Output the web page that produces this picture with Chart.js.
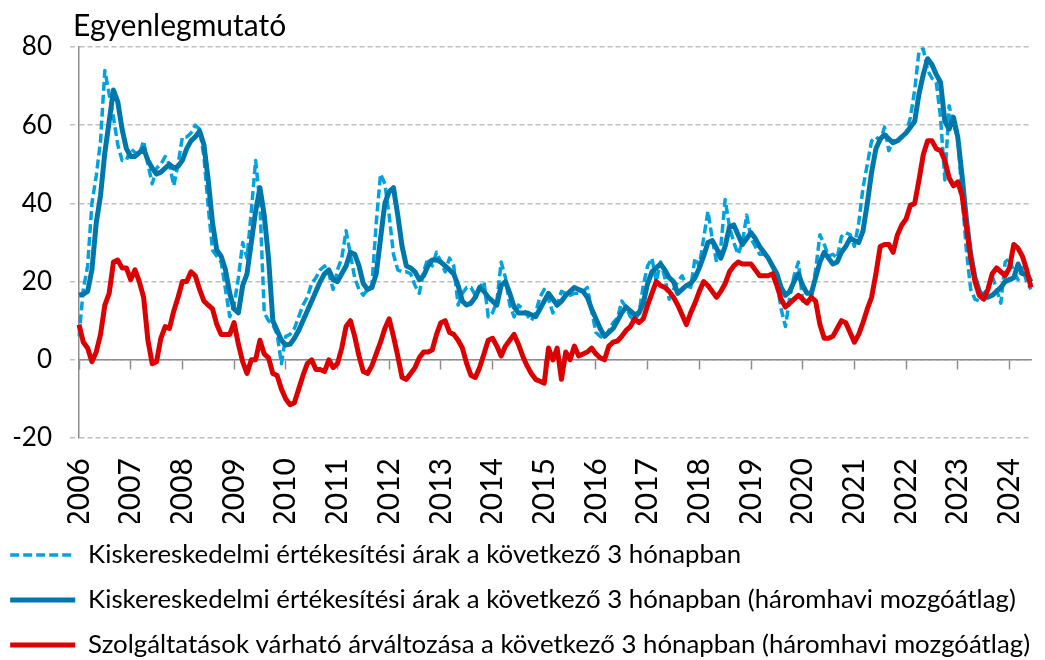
<!DOCTYPE html>
<html>
<head>
<meta charset="utf-8">
<script src="https://cdn.jsdelivr.net/npm/chart.js@4.4.0/dist/chart.umd.min.js"></script>
<style>
  body { margin: 0; background: #fff; }
</style>
</head>
<body>
<canvas id="chart" width="1045" height="660"></canvas>
<script>
// évek a vízszintes tengelyen
const yearTicks = [
  "2006", "2007", "2008", "2009", "2010", "2011", "2012", "2013", "2014",
  "2015", "2016", "2017", "2018", "2019", "2020", "2021", "2022", "2023", "2024",
];
const lastMonth = 6; // 2024 június az utolsó adat

// havi kategóriák: 2006-01 ... 2024-06
const labels = [];
yearTicks.forEach((y, k) => {
  const n = k === yearTicks.length - 1 ? lastMonth : 12;
  for (let m = 1; m <= n; m++) labels.push(y + "-" + String(m).padStart(2, "0"));
});

// kiskereskedelmi értékesítési árak, havi adat (szaggatott)
const retailRaw = [
  6, 18, 24, 40, 47, 56, 74, 68, 62, 55, 51, 51,
  54, 53, 52.5, 56, 50, 45, 49, 50, 52, 50, 44.5, 50,
  57, 57, 58, 60, 59, 52, 39, 28, 26.5, 25, 18, 11,
  14, 21, 30, 26, 38, 51, 40, 12, 10, 9, 6.5, -1,
  6, 6.5, 8, 11, 14, 16, 19.5, 21, 23, 24, 22, 18,
  23, 26, 33, 27, 21, 18, 16.5, 18, 19, 35, 47.5, 45,
  37, 27, 23, 22.5, 22.5, 22, 19, 17, 22.5, 26, 24, 27.5,
  25, 22.5, 26, 24, 14, 17, 18.5, 18.5, 16.5, 18.5, 20, 11,
  12, 15, 25, 21, 14, 11, 14, 13, 11.5, 10, 12, 16,
  18, 15.5, 12, 14, 17.5, 17, 16.5, 17, 17, 17.5, 18.5, 12.5,
  7, 6, 5.5, 7.5, 9.5, 10.7, 15, 13.5, 11, 10, 12, 19,
  24, 26, 20, 25, 21, 15.5, 18, 20, 21.5, 19, 18.5, 26,
  24, 31, 38, 31, 25, 29, 41, 34, 30, 27, 30, 37,
  31, 29, 27, 27, 26, 24, 20, 13, 8.5, 16, 21.5, 25,
  15, 15, 15.5, 23, 32, 29.5, 26.5, 27, 26, 31.5, 32.5, 32,
  29, 35, 44, 50, 56, 57, 56, 59.5, 53.5, 56, 56, 57,
  58, 62, 69, 79, 79.5, 74, 72, 71, 62, 46, 65, 60,
  57, 42, 28, 18, 15.5, 15, 17, 18, 21.5, 18, 14.5, 25,
  26, 22.5, 20.5, 23.5, 20, 18,
];

// kiskereskedelmi értékesítési árak, háromhavi mozgóátlag
const retailMA = [
  16.5, 16.8, 17.5, 23, 35, 42, 53, 61, 69, 66, 59, 54,
  52, 52, 53, 54, 51, 49, 47.5, 48, 49, 50, 49, 49.5,
  51, 54, 56, 57, 58.5, 55, 46, 35, 28, 26.5, 23, 17,
  13, 12, 19, 22, 30, 38, 44, 37, 26, 10, 7.5, 5,
  3.8, 4, 5.5, 7.5, 10, 12.5, 15, 17.5, 20, 22, 23, 20.5,
  20, 22, 24, 27.5, 27, 24, 19.5, 18, 18.5, 22, 31, 40,
  43, 44, 37, 29, 24, 23.5, 22.5, 20.5, 21.5, 24, 25.5, 25.5,
  25, 24, 23, 22, 19, 15, 14, 14.5, 16, 18.5, 17.5, 16,
  15, 14, 19, 20, 17, 13.5, 12, 12, 12, 11.5, 11, 13,
  15, 17, 15.5, 14, 15, 16.5, 17.5, 18.5, 18, 17.5, 16, 13,
  10.5, 8, 6, 7, 8, 10, 12, 13.5, 12.5, 11.5, 12, 14.5,
  19.5, 22.5, 23.5, 24.5, 23, 21, 20, 17, 18, 19, 19.5, 21,
  23.5, 26.5, 30, 30.5, 28.5, 26, 29, 34, 34.5, 32, 29.5, 31,
  32.5, 31, 29, 27.5, 26, 24, 22, 18.5, 16.5, 17.5, 20, 22,
  19, 17, 17, 21, 25, 27.5, 26, 24.5, 25, 27.5, 29, 31,
  30.5, 30, 33, 40, 48, 54, 56.5, 57.5, 56.5, 55.5, 56, 57,
  58, 59.5, 61, 68, 73, 77, 75.5, 73, 71, 61, 59, 62,
  57, 47, 36, 27, 21, 17.5, 16, 16, 16.5, 17.5, 18.5, 20,
  20.5, 21, 24.5, 22, 22, 20,
];

// szolgáltatások várható árváltozása, háromhavi mozgóátlag
const servicesMA = [
  9, 4.5, 3, -0.5, 2, 6.5, 14, 17, 25, 25.5, 23.5, 23.5,
  20.5, 23, 20, 16, 5, -1, -0.5, 5.5, 8.5, 8, 12.5, 16,
  20, 20, 22.5, 21.5, 18, 15, 14, 13, 9, 6.5, 6.5, 6.5,
  9.5, 4, -0.5, -3.5, 0, 0, 5, 1.5, 0.5, -3.5, -4, -7.5,
  -10, -11.5, -11, -7.5, -4, -1, 0, -2.5, -2.5, -3, 0, -2,
  -1, 3, 8.5, 10, 6, 1, -3, -3.5, -1.5, 1.5, 4.5, 8,
  10.5, 6, 1, -4.5, -5, -3.5, -2, 0.5, 2, 2, 2.5, 6.5,
  9.5, 10, 7, 6.5, 5, 3, -1, -4, -4.5, -2, 1.5, 5,
  5.5, 3.5, 1, 3.5, 5, 6.5, 4, 1, -1.5, -3.5, -5, -5.5,
  -6, 3, 0, 3, -5, 2, 0, 3.5, 1, 1.5, 2, 3,
  1.5, 0.5, 0, 3.5, 4.5, 4.8, 6, 7.5, 8.5, 10.5, 9.5, 10.5,
  14, 17, 20, 19, 18.5, 17.5, 16, 14, 11.5, 9, 12, 14.5,
  17.5, 20, 19, 17.5, 16, 17.5, 19.5, 22.5, 24, 25, 24.5, 24.5,
  24.5, 23, 21.5, 21.5, 21.5, 22, 19, 15.5, 13.5, 14.5, 15.5, 16.5,
  15.5, 14.5, 16, 15, 9, 5.5, 5.5, 6, 8, 10, 9.5, 7,
  4.5, 6.5, 9.5, 13, 16, 22, 29, 29.5, 29.5, 27.5, 32, 34.5,
  36, 39.5, 40, 46, 52.5, 56, 56, 54, 53.5, 51, 46.5, 44.5,
  45.5, 42, 34, 26, 20, 16.5, 15.5, 18, 22, 23.5, 22.5, 21.5,
  23.5, 29.5, 28.5, 26.5, 23, 18.5,
];

const seriesNames = [
  "Kiskereskedelmi értékesítési árak a következő 3 hónapban",
  "Kiskereskedelmi értékesítési árak a következő 3 hónapban (háromhavi mozgóátlag)",
  "Szolgáltatások várható árváltozása a következő 3 hónapban (háromhavi mozgóátlag)",
];

const axisGray = "#8c8c8c";
const gridGray = "#bfbfbf";

Chart.defaults.font.family = "Lato";
Chart.defaults.color = "#000";

// a függőleges tengely felirata
const yTitle = {
  id: "yTitle",
  afterDraw(chart) {
    const ctx = chart.ctx;
    ctx.save();
    ctx.font = "30px Lato";
    ctx.fillStyle = "#000";
    ctx.textBaseline = "alphabetic";
    ctx.fillText("Egyenlegmutató", 73, 36);
    ctx.restore();
  },
};

// jelmagyarázat: a szaggatott vonal is szaggatottan látszódjon
function legendLabels(chart) {
  const items = Chart.defaults.plugins.legend.labels.generateLabels(chart);
  items.forEach((it) => {
    const ds = chart.data.datasets[it.datasetIndex];
    it.lineDash = ds.borderDash || [];
    it.lineWidth = ds.borderWidth;
  });
  return items;
}

new Chart(document.getElementById("chart"), {
  type: "line",
  data: {
    labels: labels,
    datasets: [
      {
        label: seriesNames[0],
        data: retailRaw,
        borderColor: "#00a3e0",
        borderWidth: 3.5,
        borderDash: [9, 4],
        order: 3,
      },
      {
        label: seriesNames[1],
        data: retailMA,
        borderColor: "#0077aa",
        borderWidth: 5,
        order: 2,
      },
      {
        label: seriesNames[2],
        data: servicesMA,
        borderColor: "#dc0000",
        borderWidth: 5,
        order: 1,
      },
    ],
  },
  options: {
    responsive: false,
    animation: false,
    events: [],
    layout: { padding: { left: -9, right: 14, top: 47, bottom: -8 } },
    elements: {
      point: { radius: 0 },
      line: { tension: 0, fill: false, borderJoinStyle: "round" },
    },
    scales: {
      y: {
        min: -20,
        max: 80,
        ticks: { stepSize: 20, padding: 18, font: { size: 26 } },
        grid: {
          color: gridGray,
          tickColor: gridGray,
          lineWidth: 1.5,
          tickLength: 9,
          tickBorderDash: [5, 3],
        },
        border: { color: axisGray, width: 1.5, dash: [5, 3] },
        afterFit: (s) => {
          s.width = 88;
        },
      },
      // tengely a 0 szinten, évenkénti osztással
      x: {
        position: { y: 0 },
        ticks: { display: false, autoSkip: false },
        grid: {
          drawOnChartArea: false,
          drawTicks: true,
          tickLength: 9,
          tickWidth: 1.5,
          tickColor: (c) => (c.index % 12 === 0 ? axisGray : "rgba(0,0,0,0)"),
        },
        border: { color: axisGray, width: 1.5 },
      },
      // évszámok alul
      x2: {
        axis: "x",
        type: "category",
        position: "bottom",
        grid: { display: false, drawTicks: false },
        border: { display: false },
        ticks: {
          autoSkip: false,
          minRotation: 90,
          maxRotation: 90,
          padding: 20,
          font: { size: 30 },
          callback: (v, i) => (i % 12 === 0 ? yearTicks[i / 12] : ""),
        },
        afterFit: (s) => {
          s.height = 85;
          s.paddingLeft = 0;
          s.paddingRight = 0;
        },
      },
    },
    plugins: {
      tooltip: { enabled: false },
      title: { display: false },
      legend: {
        position: "bottom",
        align: "start",
        labels: {
          usePointStyle: true,
          pointStyle: "line",
          pointStyleWidth: 65,
          padding: 19.2,
          font: { size: 25.8 },
          generateLabels: legendLabels,
          sort: (a, b) => a.datasetIndex - b.datasetIndex,
        },
      },
    },
  },
  plugins: [yTitle],
});
</script>
</body>
</html>
